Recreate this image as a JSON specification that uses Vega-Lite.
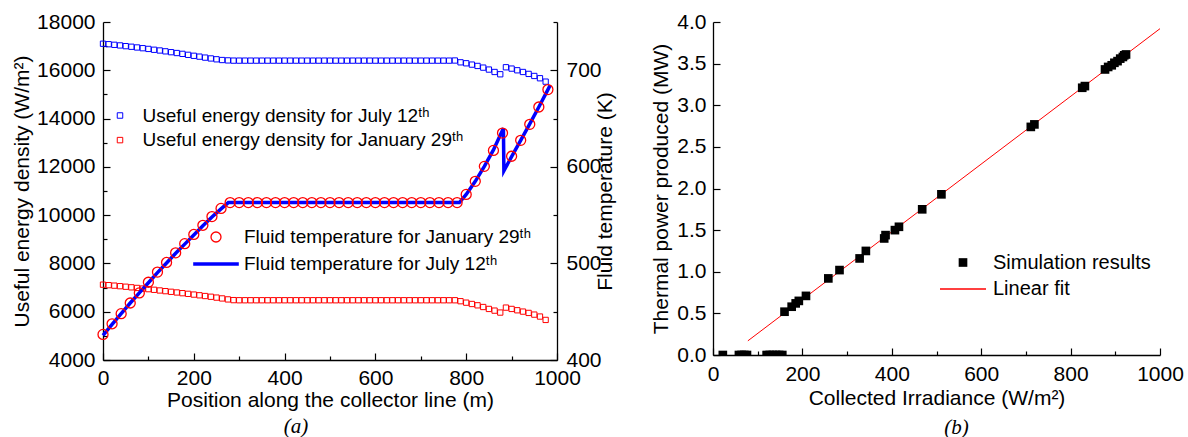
{
  "$schema": "https://vega.github.io/schema/vega-lite/v6.json",
  "background": "white",
  "padding": {"left": 11, "top": 11, "right": 0, "bottom": 0},
  "spacing": 34,
  "config": {
    "font": "Liberation Sans",
    "view": {"stroke": null},
    "axis": {"domainColor": "black", "domainWidth": 1.3, "tickColor": "black", "tickWidth": 1.2, "labelColor": "black", "labelFont": "Liberation Sans", "labelFontSize": 21, "titleFont": "Liberation Sans", "titleFontSize": 21, "titleFontWeight": "normal", "titleColor": "black", "grid": false, "labelFlush": false, "labelOverlap": false},
    "legend": {"labelFont": "Liberation Sans", "labelFontSize": 19, "labelColor": "black", "padding": 0, "labelLimit": 500},
    "title": {"font": "Liberation Serif", "fontStyle": "italic", "fontSize": 21, "fontWeight": "normal", "color": "black"}
  },
  "datasets": {
    "energy": [
      {"pos": 0, "July": 17100, "Jan": 7120},
      {"pos": 12.5, "July": 17080, "Jan": 7100},
      {"pos": 25, "July": 17055, "Jan": 7080},
      {"pos": 37.5, "July": 17030, "Jan": 7058},
      {"pos": 50, "July": 17000, "Jan": 7035},
      {"pos": 62.5, "July": 16975, "Jan": 7010},
      {"pos": 75, "July": 16945, "Jan": 6985},
      {"pos": 87.5, "July": 16915, "Jan": 6960},
      {"pos": 100, "July": 16885, "Jan": 6935},
      {"pos": 112.5, "July": 16850, "Jan": 6908},
      {"pos": 125, "July": 16820, "Jan": 6880},
      {"pos": 137.5, "July": 16785, "Jan": 6852},
      {"pos": 150, "July": 16750, "Jan": 6825},
      {"pos": 162.5, "July": 16715, "Jan": 6797},
      {"pos": 175, "July": 16680, "Jan": 6768},
      {"pos": 187.5, "July": 16640, "Jan": 6740},
      {"pos": 200, "July": 16600, "Jan": 6710},
      {"pos": 212.5, "July": 16565, "Jan": 6680},
      {"pos": 225, "July": 16525, "Jan": 6650},
      {"pos": 237.5, "July": 16490, "Jan": 6620},
      {"pos": 250, "July": 16455, "Jan": 6585},
      {"pos": 262.5, "July": 16425, "Jan": 6550},
      {"pos": 275, "July": 16410, "Jan": 6510},
      {"pos": 287.5, "July": 16400, "Jan": 6480},
      {"pos": 300, "July": 16400, "Jan": 6475},
      {"pos": 312.5, "July": 16400, "Jan": 6475},
      {"pos": 325, "July": 16400, "Jan": 6475},
      {"pos": 337.5, "July": 16400, "Jan": 6475},
      {"pos": 350, "July": 16400, "Jan": 6475},
      {"pos": 362.5, "July": 16400, "Jan": 6475},
      {"pos": 375, "July": 16400, "Jan": 6475},
      {"pos": 387.5, "July": 16400, "Jan": 6475},
      {"pos": 400, "July": 16400, "Jan": 6475},
      {"pos": 412.5, "July": 16400, "Jan": 6475},
      {"pos": 425, "July": 16400, "Jan": 6475},
      {"pos": 437.5, "July": 16400, "Jan": 6475},
      {"pos": 450, "July": 16400, "Jan": 6475},
      {"pos": 462.5, "July": 16400, "Jan": 6475},
      {"pos": 475, "July": 16400, "Jan": 6475},
      {"pos": 487.5, "July": 16400, "Jan": 6475},
      {"pos": 500, "July": 16400, "Jan": 6475},
      {"pos": 512.5, "July": 16400, "Jan": 6475},
      {"pos": 525, "July": 16400, "Jan": 6475},
      {"pos": 537.5, "July": 16400, "Jan": 6475},
      {"pos": 550, "July": 16400, "Jan": 6475},
      {"pos": 562.5, "July": 16400, "Jan": 6475},
      {"pos": 575, "July": 16400, "Jan": 6475},
      {"pos": 587.5, "July": 16400, "Jan": 6475},
      {"pos": 600, "July": 16400, "Jan": 6475},
      {"pos": 612.5, "July": 16400, "Jan": 6475},
      {"pos": 625, "July": 16400, "Jan": 6475},
      {"pos": 637.5, "July": 16400, "Jan": 6475},
      {"pos": 650, "July": 16400, "Jan": 6475},
      {"pos": 662.5, "July": 16400, "Jan": 6475},
      {"pos": 675, "July": 16400, "Jan": 6475},
      {"pos": 687.5, "July": 16400, "Jan": 6475},
      {"pos": 700, "July": 16400, "Jan": 6475},
      {"pos": 712.5, "July": 16400, "Jan": 6475},
      {"pos": 725, "July": 16400, "Jan": 6475},
      {"pos": 737.5, "July": 16400, "Jan": 6475},
      {"pos": 750, "July": 16400, "Jan": 6475},
      {"pos": 762.5, "July": 16400, "Jan": 6475},
      {"pos": 775, "July": 16405, "Jan": 6475},
      {"pos": 787.5, "July": 16330, "Jan": 6435},
      {"pos": 800, "July": 16290, "Jan": 6375},
      {"pos": 812.5, "July": 16235, "Jan": 6320},
      {"pos": 825, "July": 16180, "Jan": 6265},
      {"pos": 837.5, "July": 16110, "Jan": 6195},
      {"pos": 850, "July": 16030, "Jan": 6115},
      {"pos": 862.5, "July": 15930, "Jan": 6045},
      {"pos": 875, "July": 15835, "Jan": 5965},
      {"pos": 887.5, "July": 16125, "Jan": 6170},
      {"pos": 900, "July": 16070, "Jan": 6115},
      {"pos": 912.5, "July": 16000, "Jan": 6060},
      {"pos": 925, "July": 15930, "Jan": 6005},
      {"pos": 937.5, "July": 15850, "Jan": 5950},
      {"pos": 950, "July": 15765, "Jan": 5880},
      {"pos": 962.5, "July": 15670, "Jan": 5800},
      {"pos": 975, "July": 15530, "Jan": 5660}
    ],
    "janTemp": [
      {"pos": 0, "temp": 426.5, "series": "Jan"},
      {"pos": 20, "temp": 437.5, "series": "Jan"},
      {"pos": 40, "temp": 448, "series": "Jan"},
      {"pos": 60, "temp": 459, "series": "Jan"},
      {"pos": 80, "temp": 469.5, "series": "Jan"},
      {"pos": 100, "temp": 480.5, "series": "Jan"},
      {"pos": 120, "temp": 491, "series": "Jan"},
      {"pos": 140, "temp": 501, "series": "Jan"},
      {"pos": 160, "temp": 511, "series": "Jan"},
      {"pos": 180, "temp": 520.5, "series": "Jan"},
      {"pos": 200, "temp": 530, "series": "Jan"},
      {"pos": 220, "temp": 539.5, "series": "Jan"},
      {"pos": 240, "temp": 548.5, "series": "Jan"},
      {"pos": 260, "temp": 557, "series": "Jan"},
      {"pos": 280, "temp": 563, "series": "Jan"},
      {"pos": 300, "temp": 563, "series": "Jan"},
      {"pos": 320, "temp": 563, "series": "Jan"},
      {"pos": 340, "temp": 563, "series": "Jan"},
      {"pos": 360, "temp": 563, "series": "Jan"},
      {"pos": 380, "temp": 563, "series": "Jan"},
      {"pos": 400, "temp": 563, "series": "Jan"},
      {"pos": 420, "temp": 563, "series": "Jan"},
      {"pos": 440, "temp": 563, "series": "Jan"},
      {"pos": 460, "temp": 563, "series": "Jan"},
      {"pos": 480, "temp": 563, "series": "Jan"},
      {"pos": 500, "temp": 563, "series": "Jan"},
      {"pos": 520, "temp": 563, "series": "Jan"},
      {"pos": 540, "temp": 563, "series": "Jan"},
      {"pos": 560, "temp": 563, "series": "Jan"},
      {"pos": 580, "temp": 563, "series": "Jan"},
      {"pos": 600, "temp": 563, "series": "Jan"},
      {"pos": 620, "temp": 563, "series": "Jan"},
      {"pos": 640, "temp": 563, "series": "Jan"},
      {"pos": 660, "temp": 563, "series": "Jan"},
      {"pos": 680, "temp": 563, "series": "Jan"},
      {"pos": 700, "temp": 563, "series": "Jan"},
      {"pos": 720, "temp": 563, "series": "Jan"},
      {"pos": 740, "temp": 563, "series": "Jan"},
      {"pos": 760, "temp": 563, "series": "Jan"},
      {"pos": 780, "temp": 563, "series": "Jan"},
      {"pos": 800, "temp": 571.5, "series": "Jan"},
      {"pos": 820, "temp": 585, "series": "Jan"},
      {"pos": 840, "temp": 600.5, "series": "Jan"},
      {"pos": 860, "temp": 617, "series": "Jan"},
      {"pos": 880, "temp": 635, "series": "Jan"},
      {"pos": 900, "temp": 611, "series": "Jan"},
      {"pos": 920, "temp": 627.5, "series": "Jan"},
      {"pos": 940, "temp": 644, "series": "Jan"},
      {"pos": 960, "temp": 662, "series": "Jan"},
      {"pos": 980, "temp": 680, "series": "Jan"}
    ],
    "julyTemp": [
      {"pos": 0, "temp": 425.5, "series": "July"},
      {"pos": 20, "temp": 437, "series": "July"},
      {"pos": 40, "temp": 448, "series": "July"},
      {"pos": 60, "temp": 459, "series": "July"},
      {"pos": 80, "temp": 469.5, "series": "July"},
      {"pos": 100, "temp": 480, "series": "July"},
      {"pos": 120, "temp": 490.5, "series": "July"},
      {"pos": 140, "temp": 500.5, "series": "July"},
      {"pos": 160, "temp": 510.5, "series": "July"},
      {"pos": 180, "temp": 520, "series": "July"},
      {"pos": 200, "temp": 529.5, "series": "July"},
      {"pos": 220, "temp": 539, "series": "July"},
      {"pos": 240, "temp": 548, "series": "July"},
      {"pos": 260, "temp": 556.5, "series": "July"},
      {"pos": 276, "temp": 563, "series": "July"},
      {"pos": 785, "temp": 563, "series": "July"},
      {"pos": 800, "temp": 571.5, "series": "July"},
      {"pos": 820, "temp": 585, "series": "July"},
      {"pos": 840, "temp": 600.5, "series": "July"},
      {"pos": 860, "temp": 617.5, "series": "July"},
      {"pos": 882, "temp": 640, "series": "July"},
      {"pos": 883, "temp": 596, "series": "July"},
      {"pos": 900, "temp": 610.5, "series": "July"},
      {"pos": 920, "temp": 627.5, "series": "July"},
      {"pos": 940, "temp": 644.5, "series": "July"},
      {"pos": 960, "temp": 662, "series": "July"},
      {"pos": 980, "temp": 680, "series": "July"},
      {"pos": 985, "temp": 684.5, "series": "July"}
    ],
    "sim": [
      {"irr": 22, "power": 0, "kind": "Simulation results"},
      {"irr": 58, "power": 0, "kind": "Simulation results"},
      {"irr": 64, "power": 0, "kind": "Simulation results"},
      {"irr": 70, "power": 0, "kind": "Simulation results"},
      {"irr": 76, "power": 0, "kind": "Simulation results"},
      {"irr": 120, "power": 0, "kind": "Simulation results"},
      {"irr": 127, "power": 0, "kind": "Simulation results"},
      {"irr": 134, "power": 0, "kind": "Simulation results"},
      {"irr": 141, "power": 0, "kind": "Simulation results"},
      {"irr": 148, "power": 0, "kind": "Simulation results"},
      {"irr": 155, "power": 0, "kind": "Simulation results"},
      {"irr": 160, "power": 0.52, "kind": "Simulation results"},
      {"irr": 176, "power": 0.58, "kind": "Simulation results"},
      {"irr": 185, "power": 0.62, "kind": "Simulation results"},
      {"irr": 192, "power": 0.65, "kind": "Simulation results"},
      {"irr": 208, "power": 0.71, "kind": "Simulation results"},
      {"irr": 258, "power": 0.92, "kind": "Simulation results"},
      {"irr": 283, "power": 1.02, "kind": "Simulation results"},
      {"irr": 328, "power": 1.16, "kind": "Simulation results"},
      {"irr": 342, "power": 1.25, "kind": "Simulation results"},
      {"irr": 383, "power": 1.40, "kind": "Simulation results"},
      {"irr": 386, "power": 1.44, "kind": "Simulation results"},
      {"irr": 407, "power": 1.50, "kind": "Simulation results"},
      {"irr": 416, "power": 1.54, "kind": "Simulation results"},
      {"irr": 468, "power": 1.75, "kind": "Simulation results"},
      {"irr": 511, "power": 1.93, "kind": "Simulation results"},
      {"irr": 711, "power": 2.74, "kind": "Simulation results"},
      {"irr": 719, "power": 2.77, "kind": "Simulation results"},
      {"irr": 826, "power": 3.21, "kind": "Simulation results"},
      {"irr": 832, "power": 3.23, "kind": "Simulation results"},
      {"irr": 877, "power": 3.43, "kind": "Simulation results"},
      {"irr": 884, "power": 3.46, "kind": "Simulation results"},
      {"irr": 892, "power": 3.48, "kind": "Simulation results"},
      {"irr": 898, "power": 3.51, "kind": "Simulation results"},
      {"irr": 905, "power": 3.53, "kind": "Simulation results"},
      {"irr": 911, "power": 3.56, "kind": "Simulation results"},
      {"irr": 917, "power": 3.58, "kind": "Simulation results"},
      {"irr": 920, "power": 3.60, "kind": "Simulation results"},
      {"irr": 924, "power": 3.61, "kind": "Simulation results"}
    ],
    "fit": [
      {"irr": 78, "power": 0.17, "kind": "Linear fit"},
      {"irr": 1000, "power": 3.92, "kind": "Linear fit"}
    ]
  },
  "hconcat": [
    {
      "width": 454,
      "height": 338,
      "title": {"text": "(a)", "orient": "bottom", "dx": -34, "offset": 6},
      "layer": [
        {
          "data": {"name": "energy"},
          "transform": [{"fold": ["July", "Jan"], "as": ["day", "energy"]}],
          "mark": {"type": "point", "shape": "square", "filled": false, "size": 28, "strokeWidth": 1, "opacity": 1},
          "encoding": {
            "x": {"field": "pos", "type": "quantitative", "scale": {"domain": [0, 1000], "nice": false},
              "axis": {"title": "Position along the collector line (m)", "values": [0, 100, 200, 300, 400, 500, 600, 700, 800, 900, 1000], "format": "d", "labelExpr": "datum.value % 200 === 0 ? datum.label : ''", "tickSize": {"condition": {"test": "datum.value % 200 === 0", "value": -7}, "value": -4}, "labelPadding": 14, "titlePadding": -2}},
            "y": {"field": "energy", "type": "quantitative", "scale": {"domain": [4000, 18000], "nice": false, "zero": false},
              "axis": {"title": "Useful energy density (W/m²)", "values": [4000, 5000, 6000, 7000, 8000, 9000, 10000, 11000, 12000, 13000, 14000, 15000, 16000, 17000, 18000], "format": "d", "labelExpr": "datum.value % 2000 === 0 ? datum.label : ''", "tickSize": {"condition": {"test": "datum.value % 2000 === 0", "value": -7}, "value": -4}, "labelPadding": 15, "titlePadding": 4}},
            "color": {"field": "day", "type": "nominal", "scale": {"domain": ["July", "Jan"], "range": ["#0000ff", "#ff0000"]},
              "legend": {"orient": "none", "legendX": 7.5, "legendY": 84, "title": null, "symbolType": "square", "symbolSize": 30, "symbolStrokeWidth": 1, "rowPadding": 4.6, "labelOffset": 13, "labelExpr": "datum.value === 'July' ? 'Useful energy density for July 12ᵗʰ' : 'Useful energy density for January 29ᵗʰ'"}}
          }
        },
        {
          "layer": [
            {
              "data": {"name": "julyTemp"},
              "mark": {"type": "line", "strokeWidth": 3.5},
              "encoding": {
                "x": {"field": "pos", "type": "quantitative", "scale": {"domain": [0, 1000], "nice": false}},
                "y": {"field": "temp", "type": "quantitative", "scale": {"domain": [400, 750], "nice": false, "zero": false},
                  "axis": {"orient": "right", "title": "Fluid temperature (K)", "titleAngle": 270, "values": [400, 450, 500, 550, 600, 650, 700, 750], "format": "d", "labelExpr": "datum.value % 100 === 0 ? datum.label : ''", "tickSize": {"condition": {"test": "datum.value % 100 === 0", "value": -7}, "value": -4}, "labelPadding": 16, "titlePadding": 14}},
                "color": {"field": "series", "type": "nominal", "scale": {"domain": ["Jan", "July"], "range": ["#ff0000", "#0000ff"]},
                  "legend": {"orient": "none", "legendX": 103.5, "legendY": 205.5, "title": null, "symbolSize": 2080, "rowPadding": 7, "labelOffset": 18.4, "labelExpr": "datum.value === 'Jan' ? 'Fluid temperature for January 29ᵗʰ' : 'Fluid temperature for July 12ᵗʰ'",
                    "encode": {"symbols": {"update": {"size": {"signal": "datum.value === 'Jan' ? 100 : 2080"}, "strokeWidth": {"signal": "datum.value === 'Jan' ? 1.3 : 3.5"}}}}}}
              }
            },
            {
              "data": {"name": "janTemp"},
              "mark": {"type": "point", "filled": false, "size": 100, "strokeWidth": 1.3, "opacity": 1},
              "encoding": {
                "x": {"field": "pos", "type": "quantitative"},
                "y": {"field": "temp", "type": "quantitative"},
                "color": {"field": "series", "type": "nominal"},
                "shape": {"field": "series", "type": "nominal", "scale": {"domain": ["Jan", "July"], "range": ["circle", "stroke"]},
                  "legend": {"orient": "none", "legendX": 103.5, "legendY": 205.5, "title": null, "symbolSize": 2080, "rowPadding": 7, "labelOffset": 18.4, "labelExpr": "datum.value === 'Jan' ? 'Fluid temperature for January 29ᵗʰ' : 'Fluid temperature for July 12ᵗʰ'",
                    "encode": {"symbols": {"update": {"size": {"signal": "datum.value === 'Jan' ? 100 : 2080"}, "strokeWidth": {"signal": "datum.value === 'Jan' ? 1.3 : 3.5"}}}}}}
              }
            }
          ]
        }
      ],
      "resolve": {"scale": {"y": "independent", "color": "independent", "shape": "independent"}, "legend": {"color": "independent"}}
    },
    {
      "width": 447,
      "height": 333,
      "title": {"text": "(b)", "orient": "bottom", "dx": 20, "offset": 9},
      "layer": [
        {
          "data": {"name": "fit"},
          "mark": {"type": "line", "strokeWidth": 1},
          "encoding": {
            "x": {"field": "irr", "type": "quantitative", "scale": {"domain": [0, 1000], "nice": false},
              "axis": {"title": "Collected Irradiance (W/m²)", "values": [0, 100, 200, 300, 400, 500, 600, 700, 800, 900, 1000], "format": "d", "labelExpr": "datum.value % 200 === 0 ? datum.label : ''", "tickSize": {"condition": {"test": "datum.value % 200 === 0", "value": -7}, "value": -4}, "labelPadding": 15, "titlePadding": 0}},
            "y": {"field": "power", "type": "quantitative", "scale": {"domain": [0, 4], "nice": false},
              "axis": {"title": "Thermal power produced (MW)", "values": [0, 0.25, 0.5, 0.75, 1, 1.25, 1.5, 1.75, 2, 2.25, 2.5, 2.75, 3, 3.25, 3.5, 3.75, 4], "labelExpr": "abs(datum.value * 2 - round(datum.value * 2)) < 0.001 ? format(datum.value, '.1f') : ''", "tickSize": {"condition": {"test": "abs(datum.value * 2 - round(datum.value * 2)) < 0.001", "value": -7}, "value": -4}, "labelPadding": 14, "titlePadding": 5}},
            "color": {"field": "kind", "type": "nominal", "scale": {"domain": ["Simulation results", "Linear fit"], "range": ["#000000", "#ff0000"]},
              "legend": {"orient": "none", "legendX": 850, "legendY": 230.5, "title": null, "symbolSize": 2116, "rowPadding": 6.5, "labelOffset": 20, "labelFontSize": 20,
                "encode": {"symbols": {"update": {"size": {"signal": "datum.value === 'Linear fit' ? 2116 : 75"}, "stroke": {"signal": "datum.value === 'Linear fit' ? '#ff0000' : '#000000'"}, "strokeWidth": {"signal": "datum.value === 'Linear fit' ? 1.5 : 0"}}}}}}
          }
        },
        {
          "data": {"name": "sim"},
          "mark": {"type": "point", "filled": true, "size": 75, "opacity": 1, "clip": true},
          "encoding": {
            "x": {"field": "irr", "type": "quantitative"},
            "y": {"field": "power", "type": "quantitative"},
            "color": {"field": "kind", "type": "nominal"},
            "shape": {"field": "kind", "type": "nominal", "scale": {"domain": ["Simulation results", "Linear fit"], "range": ["square", "stroke"]},
              "legend": {"orient": "none", "legendX": 850, "legendY": 230.5, "title": null, "symbolSize": 2116, "rowPadding": 6.5, "labelOffset": 20, "labelFontSize": 20,
                "encode": {"symbols": {"update": {"size": {"signal": "datum.value === 'Linear fit' ? 2116 : 75"}, "stroke": {"signal": "datum.value === 'Linear fit' ? '#ff0000' : '#000000'"}, "strokeWidth": {"signal": "datum.value === 'Linear fit' ? 1.5 : 0"}}}}}}
          }
        }
      ]
    }
  ]
}
